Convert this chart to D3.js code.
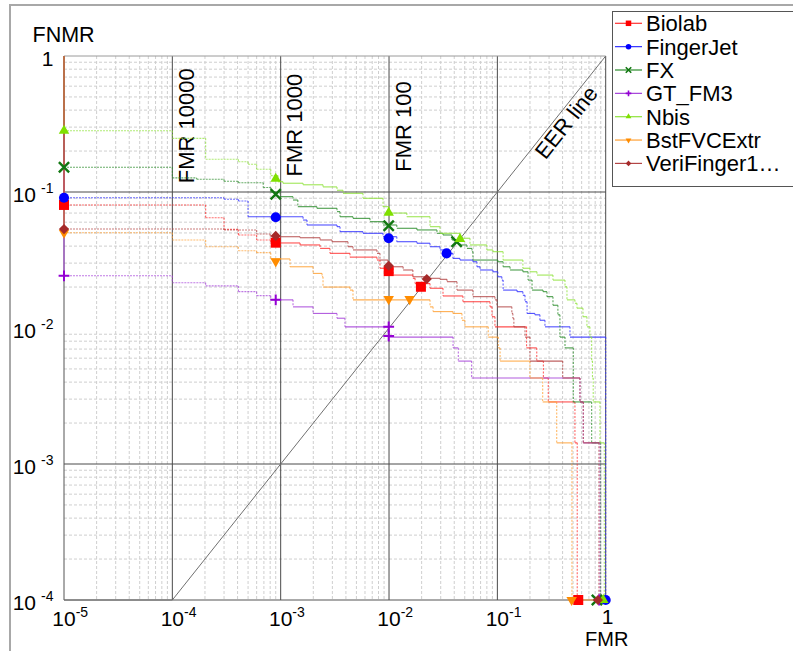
<!DOCTYPE html>
<html><head><meta charset="utf-8">
<script src="https://cdn.jsdelivr.net/npm/d3@7"></script>
<style>
body{margin:0;background:#fff;}
svg{display:block;}
text{font-family:"Liberation Sans",Arial,sans-serif;fill:#000;}
</style>
</head><body>
<svg id="chart" width="793" height="651"></svg>
<script>
// ---------------- DATA ----------------
const seriesNames = ["Biolab","FingerJet","FX","GT_FM3","Nbis","BstFVCExtr","VeriFinger1…"];
const lineColors   = ["#ff3030","#3030ff","#2a8c2a","#a440d8","#8ee23a","#ffa033","#b34545"];
const markerColors = ["#ff0000","#0000ff","#117711","#9400d3","#7fe000","#ff8c00","#a52a2a"];
const markerShapes = ["square","circle","times","plus","triangle","triangleDown","diamond"];

// [FMR, FNMR] step points
const biolabCurve = [[1e-5,1],[1e-5,0.0803],[2.03e-4,0.0647],[3.0e-4,0.0531],[4.07e-4,0.0483],[6.0e-4,0.0444],[8.1e-4,0.0422],[1.51e-3,0.0408],[2.31e-3,0.0385],[2.85e-3,0.0354],[4.36e-3,0.0332],[7.74e-3,0.0316],[8.25e-3,0.0275],[1.09e-2,0.0245],[1.66e-2,0.0232],[1.74e-2,0.0212],[2.39e-2,0.0196],[3.15e-2,0.0172],[4.81e-2,0.0156],[8.55e-2,0.0143],[8.92e-2,0.0121],[9.5e-2,0.0102],[0.186,0.00714],[0.231,0.00571],[0.266,0.00429],[0.295,0.00286],[0.52,0.00143],[0.546,1e-4]];
const fingerJetCurve = [[1e-5,1],[1e-5,0.0908],[3.0e-4,0.0884],[4.07e-4,0.0859],[5.0e-4,0.0658],[1.61e-3,0.0622],[1.75e-3,0.0572],[3.31e-3,0.0556],[3.53e-3,0.0511],[5.75e-3,0.0497],[8.8e-3,0.0469],[1.18e-2,0.0431],[1.81e-2,0.0420],[2.39e-2,0.0396],[2.95e-2,0.0375],[3.43e-2,0.0354],[3.89e-2,0.0325],[4.52e-2,0.0316],[5.95e-2,0.0307],[6.48e-2,0.0282],[6.91e-2,0.0267],[9.1e-2,0.0259],[0.101,0.0238],[0.110,0.0225],[0.113,0.0190],[0.152,0.0185],[0.172,0.0174],[0.180,0.0156],[0.188,0.0128],[0.222,0.0125],[0.247,0.0114],[0.275,0.0102],[0.468,0.00857],[1.0,1e-4]];
const fxCurve = [[1e-5,1],[1e-5,0.152],[1e-4,0.127],[1.68e-4,0.124],[3.0e-4,0.120],[4.07e-4,0.117],[6.9e-4,0.108],[8.1e-4,0.0995],[9.86e-4,0.0924],[1.30e-3,0.0873],[1.44e-3,0.078],[2.16e-3,0.0759],[3.31e-3,0.0717],[3.53e-3,0.0658],[4.65e-3,0.064],[6.67e-3,0.0605],[8.8e-3,0.0572],[1.18e-2,0.0541],[1.81e-2,0.0526],[2.77e-2,0.0497],[3.15e-2,0.0483],[3.81e-2,0.0444],[4.52e-2,0.0408],[5.24e-2,0.0385],[5.83e-2,0.0364],[5.95e-2,0.0316],[0.101,0.0307],[0.113,0.0282],[0.131,0.0267],[0.172,0.0259],[0.192,0.0225],[0.209,0.0190],[0.264,0.0185],[0.287,0.0170],[0.326,0.0147],[0.362,0.0125],[0.378,0.00857],[0.421,0.00714],[0.502,0.00286],[0.742,0.00143],[0.898,1e-4]];
const gtCurve = [[1e-5,1],[1e-5,0.0242],[1e-4,0.0215],[2.03e-4,0.0204],[4.07e-4,0.0185],[6.0e-4,0.0173],[8.1e-4,0.0161],[1.30e-3,0.0143],[1.99e-3,0.0128],[3.31e-3,0.0118],[3.92e-3,0.0102],[9.9e-3,0.00857],[3.9e-2,0.00714],[4.36e-2,0.00571],[5.79e-2,0.00429],[0.579,0.00286],[0.621,0.00143],[0.885,1e-4]];
const nbisCurve = [[1e-5,1],[1e-5,0.282],[1e-4,0.248],[2.03e-4,0.174],[4.07e-4,0.167],[5.0e-4,0.160],[6.0e-4,0.147],[8.1e-4,0.132],[9.45e-4,0.119],[1.05e-3,0.116],[1.61e-3,0.113],[2.46e-3,0.109],[3.31e-3,0.103],[3.76e-3,0.0978],[5.75e-3,0.0899],[8.8e-3,0.078],[1.0e-2,0.070],[1.46e-2,0.0658],[2.39e-2,0.0556],[2.95e-2,0.0497],[4.52e-2,0.0457],[5.59e-2,0.0408],[8.0e-2,0.0375],[9.1e-2,0.0364],[0.113,0.0316],[0.172,0.0275],[0.200,0.0259],[0.232,0.0245],[0.326,0.0225],[0.421,0.0201],[0.439,0.0161],[0.52,0.0152],[0.543,0.0140],[0.617,0.0121],[0.671,0.0102],[0.715,0.00857],[0.742,0.00571],[0.755,0.00429],[0.767,0.00286],[0.885,0.00143],[0.97,1e-4]];
const bstCurve = [[1e-5,1],[1e-5,0.0502],[1e-4,0.0444],[2.03e-4,0.0396],[4.07e-4,0.0370],[6.0e-4,0.0358],[8.1e-4,0.0322],[1.22e-3,0.0282],[1.99e-3,0.0252],[2.41e-3,0.0238],[2.46e-3,0.0200],[4.36e-3,0.0190],[4.65e-3,0.0161],[2.39e-2,0.0143],[2.55e-2,0.0132],[3.89e-2,0.0128],[4.71e-2,0.0114],[5.02e-2,0.0102],[8.24e-2,0.00857],[0.102,0.00714],[0.106,0.00571],[0.200,0.00429],[0.262,0.00286],[0.353,0.00143],[0.488,1e-4],[0.848,1e-4]];
const veriCurve = [[1e-5,1],[1e-5,0.0534],[3.0e-4,0.0526],[6.0e-4,0.0491],[8.0e-4,0.0475],[9.86e-4,0.0469],[1.51e-3,0.0461],[2.31e-3,0.0444],[2.98e-3,0.0431],[4.18e-3,0.0396],[4.65e-3,0.0375],[7.74e-3,0.0354],[8.25e-3,0.0316],[9.78e-3,0.0282],[1.35e-2,0.0267],[1.66e-2,0.0238],[2.24e-2,0.0232],[2.95e-2,0.0228],[3.43e-2,0.0219],[4.24e-2,0.0190],[5.95e-2,0.0170],[9.5e-2,0.0161],[9.92e-2,0.0143],[0.136,0.0128],[0.139,0.0118],[0.142,0.0102],[0.180,0.00857],[0.200,0.00571],[0.401,0.00429],[0.579,0.00286],[0.621,0.00143],[0.866,1e-4]];

// markers: FMR=0 (left), ~FMR 1000, ~FMR 100, EER, FNMR=0 (bottom)
const biolabMarkers    = [[1e-5,0.0803],[9.0e-4,0.0424],[9.93e-3,0.0262],[1.97e-2,0.0201],[0.558,1e-4]];
const fingerJetMarkers = [[1e-5,0.0908],[9.0e-4,0.0652],[9.93e-3,0.0457],[3.40e-2,0.0354],[1.0,1e-4]];
const fxMarkers        = [[1e-5,0.152],[9.0e-4,0.0963],[9.93e-3,0.0565],[4.21e-2,0.0431],[0.83,1e-4]];
const gtMarkers        = [[1e-5,0.0242],[9.0e-4,0.0161],[9.93e-3,0.00873],[9.93e-3,0.0102],[0.87,1e-4]];
const nbisMarkers      = [[1e-5,0.282],[9.0e-4,0.125],[9.93e-3,0.0704],[4.52e-2,0.0451],[0.95,1e-4]];
const bstMarkers       = [[1e-5,0.0502],[9.0e-4,0.0309],[9.93e-3,0.0163],[1.55e-2,0.0163],[0.485,1e-4]];
const veriMarkers      = [[1e-5,0.0534],[9.0e-4,0.0475],[9.93e-3,0.0287],[2.23e-2,0.0229],[0.848,1e-4]];

const curves  = [biolabCurve, fingerJetCurve, fxCurve, gtCurve, nbisCurve, bstCurve, veriCurve];
const markers = [biolabMarkers, fingerJetMarkers, fxMarkers, gtMarkers, nbisMarkers, bstMarkers, veriMarkers];

const xTickValues = [1e-5,1e-4,1e-3,1e-2,1e-1,1];
const xTickExps   = ["-5","-4","-3","-2","-1",""];
const yTickValues = [1,1e-1,1e-2,1e-3,1e-4];
const yTickExps   = ["","-1","-2","-3","-4"];
const fmrRefValues = [1e-4,1e-3,1e-2];
const fmrRefLabels = ["FMR 10000","FMR 1000","FMR 100"];
const fmrRefLabelStart = [0.116,0.130,0.141]; // FNMR where each rotated label begins
const eerLabel = "EER line";

// ---------------- CHART ----------------
const svg = d3.select("#chart");
const x = d3.scaleLog().domain([1e-5,1]).range([64,605.7]);
const y = d3.scaleLog().domain([1e-4,1]).range([600,56]);
const [x0,x1] = x.range(), [y0,y1] = [y(1),y(1e-4)];

// outer frame
svg.append("line").attr("x1",9).attr("x2",793).attr("y1",5).attr("y2",5).attr("stroke","#a8a8a8").attr("stroke-width",2);
svg.append("line").attr("x1",10).attr("x2",10).attr("y1",5).attr("y2",651).attr("stroke","#a8a8a8").attr("stroke-width",2);

const grid = svg.append("g");
for (let k=-5;k<0;k++) for (let m=2;m<=9;m++){
  const v=m*Math.pow(10,k);
  grid.append("line").attr("x1",x(v)).attr("x2",x(v)).attr("y1",y0).attr("y2",y1)
    .attr("stroke","#cfcfcf").attr("stroke-dasharray","3,2").attr("stroke-width",1);
}
for (let k=-4;k<0;k++) for (let m=2;m<=9;m++){
  const v=m*Math.pow(10,k);
  grid.append("line").attr("x1",x0).attr("x2",x1).attr("y1",y(v)).attr("y2",y(v))
    .attr("stroke","#cfcfcf").attr("stroke-dasharray","3,2").attr("stroke-width",1);
}
[1e-4,1e-3,1e-2,1e-1,1].forEach(v=>{
  grid.append("line").attr("x1",x(v)).attr("x2",x(v)).attr("y1",y0).attr("y2",y1).attr("stroke","#4a4a4a").attr("stroke-width",1);
});
[1e-1,1e-3].forEach(v=>{
  grid.append("line").attr("x1",x0).attr("x2",x1).attr("y1",y(v)).attr("y2",y(v)).attr("stroke","#4a4a4a").attr("stroke-width",1);
});
grid.append("line").attr("x1",x0).attr("x2",x1).attr("y1",y(1)).attr("y2",y(1)).attr("stroke","#9a9a9a");
grid.append("line").attr("x1",x0).attr("x2",x0).attr("y1",y0).attr("y2",y1).attr("stroke","#555");
grid.append("line").attr("x1",x0).attr("x2",x1).attr("y1",y1).attr("y2",y1).attr("stroke","#555");

// EER line
const eerPts = [[1e-5,1e-4],[1e-4,1e-4],[1,1]];
svg.append("path").attr("d", d3.line().x(d=>x(d[0])).y(d=>y(d[1]))(eerPts))
  .attr("fill","none").attr("stroke","#707070").attr("stroke-width",1);

// reference labels
const fs = 22;
fmrRefValues.forEach((v,i)=>{
  const tx = x(v)+21.5, ty = y(fmrRefLabelStart[i]);
  svg.append("text").attr("transform",`translate(${tx},${ty}) rotate(-90)`)
    .attr("font-size",fs).text(fmrRefLabels[i]);
});
{
  const ang = Math.atan2(y(1)-y(1e-4), x(1)-x(1e-4));
  const deg = ang*180/Math.PI;
  const v = 0.363;
  const px = x(v), py = y(v);
  const perp = [-Math.sin(ang), Math.cos(ang)];
  const d = 18;
  svg.append("text").attr("transform",`translate(${px+perp[0]*d},${py+perp[1]*d}) rotate(${deg})`)
    .attr("text-anchor","middle").attr("font-size",fs).text(eerLabel);
}

// series lines: horizontal runs solid (dotted in the low-FMR zone), vertical drops dashed
const segLine = d3.line().x(d=>x(d[0])).y(d=>y(d[1]));
curves.forEach((c,i)=>{
  const g = svg.append("g").attr("fill","none").attr("stroke",lineColors[i]).attr("stroke-width",1.1);
  // first drop along the FMR=0 axis: solid
  g.append("path").attr("d",segLine([c[0],c[1]])).attr("stroke-opacity",0.9);
  for (let k=1;k<c.length-1;k++){
    const a=c[k], b=c[k+1];
    const h = [[a[0],a[1]],[b[0],a[1]]];
    const low = b[0] <= 1.01e-3;
    g.append("path").attr("d",segLine(h))
      .attr("stroke-opacity", low?0.7:0.85)
      .attr("stroke-dasharray", low?"2,1":null);
    if (b[1]!==a[1]){
      g.append("path").attr("d",segLine([[b[0],a[1]],[b[0],b[1]]]))
        .attr("stroke-opacity",0.75).attr("stroke-dasharray","2,1.5");
    }
  }
});

// markers
function symbolPath(shape, scale){
  const s = scale||1;
  switch(shape){
    case "square": return {d:d3.symbol(d3.symbolSquare, 100*s*s)(), rot:0, fill:true};
    case "circle": return {d:d3.symbol(d3.symbolCircle, 80*s*s)(), rot:0, fill:true};
    case "times": return {d:d3.symbol(d3.symbolTimes, 70*s*s)(), rot:0, fill:false};
    case "plus": return {d:d3.symbol(d3.symbolPlus, 40*s*s)(), rot:0, fill:false};
    case "triangle": return {d:d3.symbol(d3.symbolTriangle, 48*s*s)(), rot:0, fill:true};
    case "triangleDown": return {d:d3.symbol(d3.symbolTriangle, 48*s*s)(), rot:180, fill:true};
    case "diamond": return {d:d3.symbol(d3.symbolSquare, 52*s*s)(), rot:45, fill:true};
  }
}
function drawMarker(g, shape, color, px, py, scale, sw){
  const sp = symbolPath(shape, scale);
  g.append("path").attr("d",sp.d)
    .attr("transform",`translate(${px},${py}) rotate(${sp.rot})`)
    .attr("fill", sp.fill?color:"none")
    .attr("stroke", sp.fill?"none":color)
    .attr("stroke-width", sp.fill?0:sw);
}
const mg = svg.append("g");
markers.forEach((ms,i)=>{
  ms.forEach(m=>drawMarker(mg, markerShapes[i], markerColors[i], x(m[0]), y(m[1]), 1, markerShapes[i]==="times"?2.4:2));
});

// axis tick labels
yTickValues.forEach((v,i)=>{
  const t = svg.append("text").attr("x",53.5).attr("y",y(v)+9.5).attr("text-anchor","end").attr("font-size",21);
  if (yTickExps[i]===""){ t.text("1"); }
  else { t.append("tspan").text("10"); t.append("tspan").attr("font-size",14).attr("dy",-9).attr("dx",5).text(yTickExps[i]); }
});
xTickValues.forEach((v,i)=>{
  if (xTickExps[i]===""){
    svg.append("text").attr("x",x(v)+2).attr("y",624).attr("text-anchor","middle").attr("font-size",21).text("1");
  } else {
    const t = svg.append("text").attr("x",x(v)-11.7).attr("y",626).attr("font-size",21);
    t.append("tspan").text("10");
    t.append("tspan").attr("font-size",14).attr("dy",-9).text(xTickExps[i]);
  }
});
svg.append("text").attr("x",x(1)+1).attr("y",646).attr("text-anchor","middle").attr("font-size",20).text("FMR");
svg.append("text").attr("x",32.5).attr("y",41.5).attr("font-size",21.5).text("FNMR");

// legend
const lg = svg.append("g");
lg.append("rect").attr("x",612.5).attr("y",11.5).attr("width",200).attr("height",175)
  .attr("fill","#fff").attr("stroke","#555").attr("stroke-width",1);
seriesNames.forEach((n,i)=>{
  const cy = 23.3 + i*23.35;
  lg.append("line").attr("x1",615).attr("x2",642).attr("y1",cy).attr("y2",cy).attr("stroke",lineColors[i]).attr("stroke-width",1.2);
  drawMarker(lg, markerShapes[i], markerColors[i], 628.5, cy, 0.55, 1.6);
  lg.append("text").attr("x",646).attr("y",cy+8).attr("font-size",22).text(n);
});
</script>
</body></html>
